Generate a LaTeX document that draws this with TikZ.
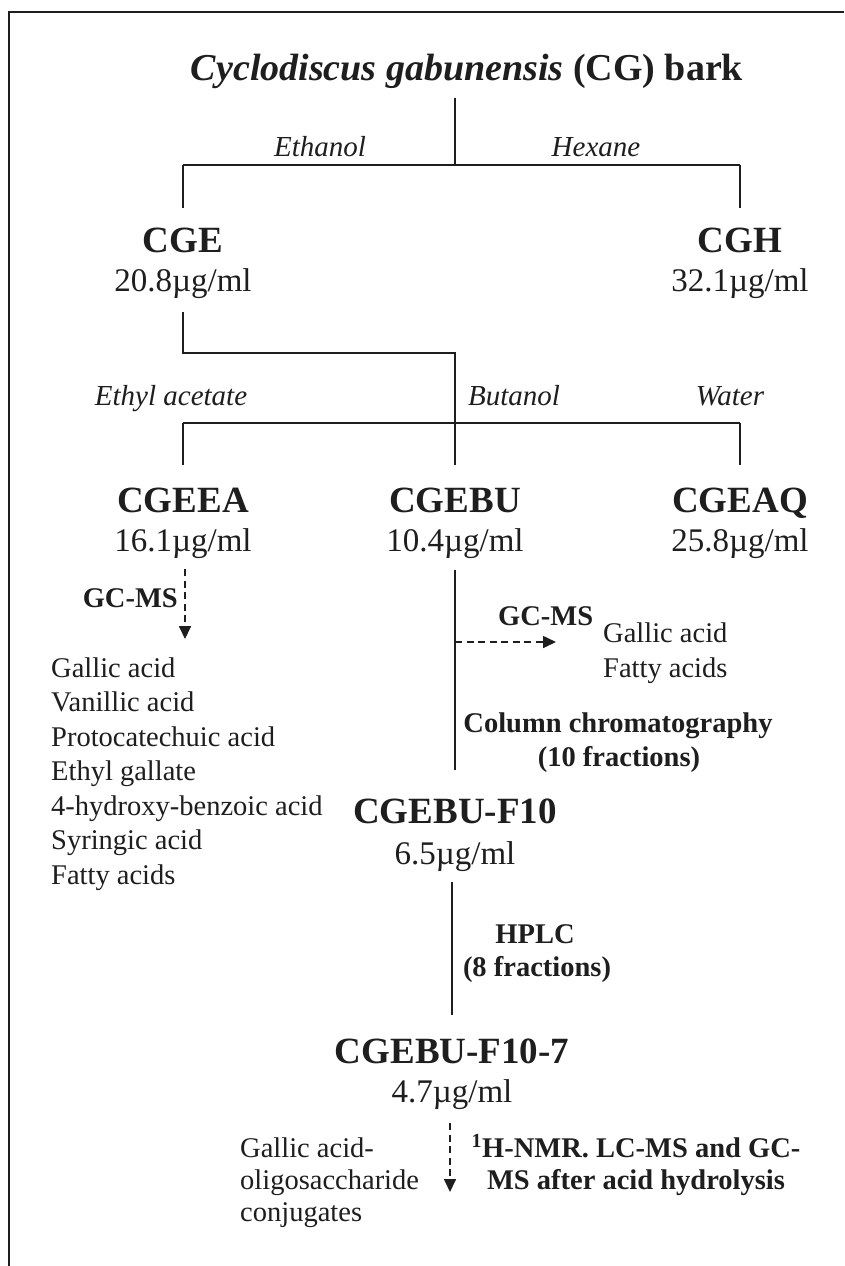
\documentclass[tikz,border=0pt]{standalone}
\usepackage{fontspec}
\setmainfont{Liberation Serif}
\usetikzlibrary{arrows.meta}
\definecolor{inkgray}{HTML}{1E1E1E}

\tikzset{
	prodname/.style={anchor=base, inner sep=0pt, text=inkgray, font=\bfseries\fontsize{37}{44}\selectfont},
	conc/.style={anchor=base, inner sep=0pt, text=inkgray, font=\fontsize{33}{40}\selectfont},
	solvent/.style={anchor=base, inner sep=0pt, text=inkgray, font=\itshape\fontsize{29}{35}\selectfont},
	method/.style={anchor=base, inner sep=0pt, text=inkgray, font=\bfseries\fontsize{28.5}{34}\selectfont},
	compound/.style={anchor=base west, inner sep=0pt, text=inkgray, font=\fontsize{28.5}{34}\selectfont},
	link/.style={draw=inkgray, line width=1.6pt},
	probe/.style={link, dash pattern=on 7pt off 4.5pt, -{Triangle[length=13pt,width=12pt]}},
}

\begin{document}
\begin{tikzpicture}[x=1pt,y=-1pt]
	% Fixed canvas in pixel units of the figure.
	\path[use as bounding box] (0,0) rectangle (844,1266);
	\fill[white] (0,0) rectangle (844,1266);
	\draw[link] (9,1266) -- (9,12) -- (844,12);

	% Plant material.
	\node[anchor=base, inner sep=0pt, text=inkgray, font=\fontsize{38}{45}\selectfont] (bark) at (467,80)
		{\textbf{\textit{Cyclodiscus gabunensis}} \textbf{(CG) bark}};

	% First extraction.
	\node[solvent] (ethanol) at (320,156) {Ethanol};
	\node[solvent] (hexane) at (596,156) {Hexane};
	\node[prodname] (cge) at (183,252) {CGE};
	\node[conc] (cgev) at (183,291) {20.8µg/ml};
	\node[prodname] (cgh) at (740,252) {CGH};
	\node[conc] (cghv) at (740,291) {32.1µg/ml};

	\coordinate (splitA) at (455,165);
	\draw[link, shorten <=10pt] (bark.south -| splitA) -- (splitA);
	\draw[link] (cge.north |- splitA) -- (cgh.north |- splitA);
	\draw[link, shorten >=19pt] (cge.north |- splitA) -- (cge.north);
	\draw[link, shorten >=19pt] (cgh.north |- splitA) -- (cgh.north);

	% Partition of the ethanol extract.
	\node[solvent] (etac) at (171,405) {Ethyl acetate};
	\node[solvent] (butanol) at (514,405) {Butanol};
	\node[solvent] (water) at (730,405) {Water};
	\node[prodname] (cgeea) at (183,512) {CGEEA};
	\node[conc] (cgeeav) at (183,551) {16.1µg/ml};
	\node[prodname] (cgebu) at (455,512) {CGEBU};
	\node[conc] (cgebuv) at (455,551) {10.4µg/ml};
	\node[prodname] (cgeaq) at (740,512) {CGEAQ};
	\node[conc] (cgeaqv) at (740,551) {25.8µg/ml};

	\coordinate (bend) at (455,353);
	\coordinate (splitB) at (455,423);
	\draw[link, shorten <=14pt, shorten >=22pt] (cgev.south) |- (bend) -- (cgebu.north);
	\draw[link] (cgeea.north |- splitB) -- (cgeaq.north |- splitB);
	\draw[link, shorten >=22pt] (cgeea.north |- splitB) -- (cgeea.north);
	\draw[link, shorten >=22pt] (cgeaq.north |- splitB) -- (cgeaq.north);

	% Ethyl acetate fraction: GC-MS.
	\node[method, anchor=base east] (gcmsa) at (178,607) {GC-MS};
	\foreach \t [count=\i] in {Gallic acid, Vanillic acid, Protocatechuic acid, Ethyl gallate,
		4-hydroxy-benzoic acid, Syringic acid, Fatty acids}
		\node[compound] (ea\i) at ({51},{677+34.5*(\i-1)}) {\t};
	\draw[probe, shorten <=11pt, shorten >=18pt] ([xshift=2pt]cgeeav.south) -- ([xshift=2pt]cgeeav.south |- ea1.north);

	% Butanol fraction: GC-MS and column.
	\node[method, anchor=base west] (gcmsb) at (498,625) {GC-MS};
	\node[compound] (bu1) at (603,642) {Gallic acid};
	\node[compound] (bu2) at (603,677) {Fatty acids};
	\coordinate (tap) at (455,642);
	\coordinate (tapend) at (556,642);
	\draw[probe] (tap) -- (tapend);
	\node[method] (column) at (618,732) {Column chromatography};
	\node[method] (colfrac) at (619,766) {(10 fractions)};

	\node[prodname] (f10) at (455,823) {CGEBU-F10};
	\node[conc] (f10v) at (455,864) {6.5µg/ml};
	\draw[link, shorten <=12pt, shorten >=28pt] (cgebuv.south) -- (f10.north);

	% HPLC step.
	\node[method] (hplc) at (535,943) {HPLC};
	\node[method] (hplcfrac) at (537,976) {(8 fractions)};
	\node[prodname] (f107) at (452,1063) {CGEBU-F10-7};
	\node[conc] (f107v) at (452,1102) {4.7µg/ml};
	\draw[link, shorten <=11pt, shorten >=23pt] (f10v.south -| f107.north) -- (f107.north);

	% Final identification.
	\node[compound] (gal1) at (240,1157) {Gallic acid-};
	\node[compound] (gal2) at (240,1189) {oligosaccharide};
	\node[compound] (gal3) at (240,1221) {conjugates};
	\node[method] (nmr1) at (636,1157) {\textsuperscript{1}H-NMR. LC-MS and GC-};
	\node[method] (nmr2) at (636,1189) {MS after acid hydrolysis};
	\coordinate (tipC) at (450,1192);
	\draw[probe, shorten <=14pt] (f107v.south -| tipC) -- (tipC);
\end{tikzpicture}
\end{document}
